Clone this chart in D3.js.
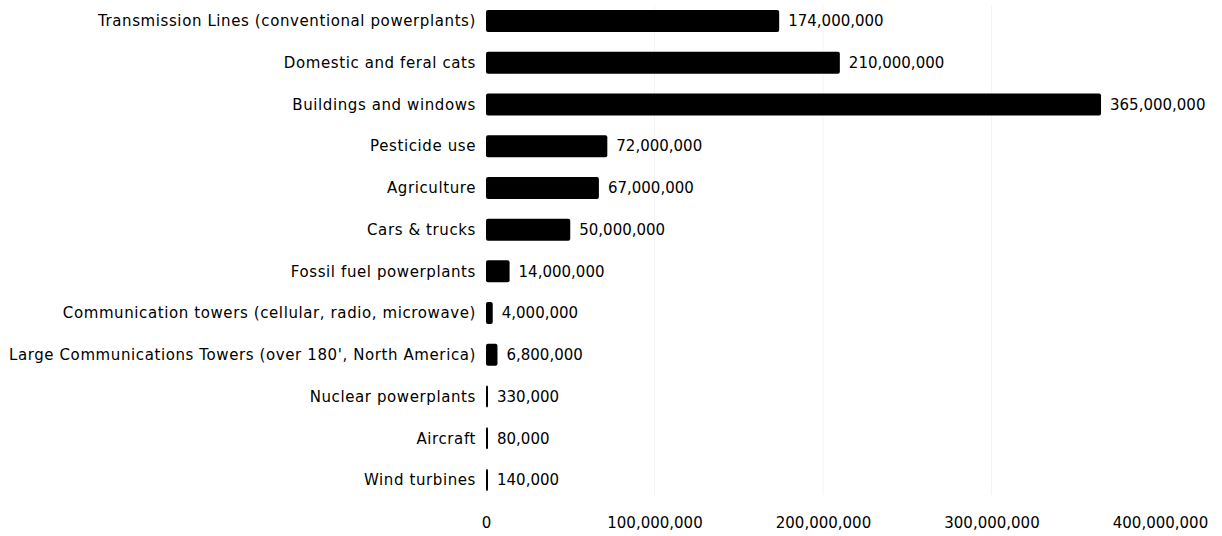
<!DOCTYPE html>
<html><head><meta charset="utf-8">
<script src="https://cdn.jsdelivr.net/npm/d3@7"></script>
<style>
body{margin:0;background:#fff;}
text{font-family:"DejaVu Sans",sans-serif;fill:#000;}
</style></head>
<body><svg id="c" width="1222" height="536"></svg>
<script>
const categories = ["Transmission Lines (conventional powerplants)","Domestic and feral cats","Buildings and windows","Pesticide use","Agriculture","Cars & trucks","Fossil fuel powerplants","Communication towers (cellular, radio, microwave)","Large Communications Towers (over 180', North America)","Nuclear powerplants","Aircraft","Wind turbines"];
const values = [174000000,210000000,365000000,72000000,67000000,50000000,14000000,4000000,6800000,330000,80000,140000];
const tickValues = [0,100000000,200000000,300000000,400000000];

const svg = d3.select("#c");
const x = d3.scaleLinear().domain([0,400000000]).range([486,1160]);
const y = d3.scalePoint().domain(categories).range([21,480]);
const bh = 22;
const fmt = d3.format(",");
const fs = 15;

svg.append("g").selectAll("line").data(tickValues.slice(1,4)).join("line")
  .attr("x1",d=>x(d)).attr("x2",d=>x(d)).attr("y1",5).attr("y2",495)
  .attr("stroke","#f4f4f4").attr("stroke-width",1);

const rows = categories.map((c,i)=>({c,v:values[i]}));
const w = d=>Math.max(2,x(d.v)-x(0));
svg.append("g").selectAll("rect").data(rows).join("rect")
  .attr("x",x(0)).attr("y",d=>y(d.c)-bh/2)
  .attr("width",w).attr("height",bh)
  .attr("rx",2).attr("fill","#000");

svg.append("g").selectAll("text").data(rows).join("text")
  .attr("x",476).attr("y",d=>y(d.c)).attr("dy","0.35em")
  .attr("text-anchor","end").attr("font-size",fs).attr("letter-spacing",0.6).text(d=>d.c);

svg.append("g").selectAll("text").data(rows).join("text")
  .attr("x",d=>x(0)+w(d)+9).attr("y",d=>y(d.c)).attr("dy","0.35em")
  .attr("font-size",fs).text(d=>fmt(d.v));

const ax = d3.axisBottom(x).tickValues(tickValues).tickFormat(fmt).tickSize(0).tickPadding(0);
const g = svg.append("g").attr("transform","translate(0,517)").call(ax);
g.select(".domain").remove();
g.selectAll("text").attr("font-size",fs).style("font-family","'DejaVu Sans',sans-serif").attr("fill","#000");
</script></body></html>
